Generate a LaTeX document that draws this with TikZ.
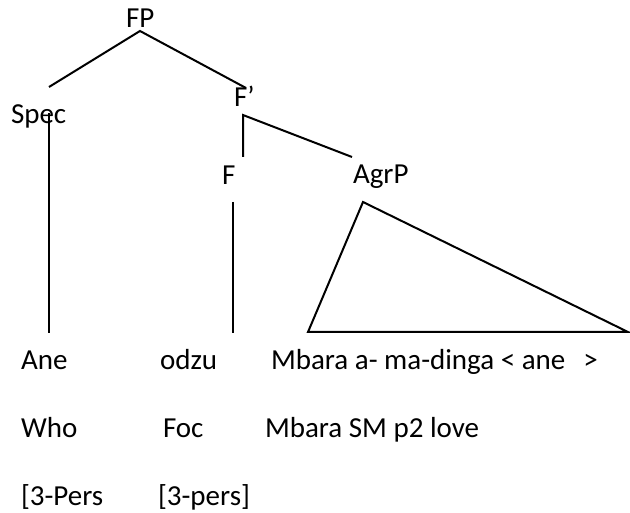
\documentclass[tikz,border=0pt]{standalone}
\usepackage{fontspec}
\setmainfont{Carlito}
\begin{document}
\begin{tikzpicture}[x=1pt,y=-1pt,
  lbl/.style={anchor=base west,inner sep=0pt,outer sep=0pt,font=\fontsize{29}{35}\selectfont},
  edge/.style={line width=2pt,line cap=butt,line join=miter}]
\useasboundingbox (0,0) rectangle (630,513);
% labels
\node[lbl] (fp) at (126,28) {FP};
\node[lbl] (spec) at (11,124) {Spec};
\node[lbl] (fbar) at (234,107) {F’};
\node[lbl] (f) at (222,185) {F};
\node[lbl] (agrp) at (353,184) {AgrP};
\node[lbl] (ane) at (21,370) {Ane};
\node[lbl] (odzu) at (160,370) {odzu};
\node[lbl] (mbara) at (271,370) {Mbara a- ma-dinga < ane\hspace{0.62em}>};
\node[lbl] (who) at (21,438) {Who};
\node[lbl] (foc) at (163,438) {Foc};
\node[lbl] (gloss) at (265,437) {Mbara SM p2 love};
\node[lbl] (pers1) at (21,505) {[3-Pers};
\node[lbl] (pers2) at (158,505) {[3-pers]};
% branch points
\coordinate (fpb) at (140,31);
\coordinate (spect) at (49,87);
\coordinate (fbart) at (246,88);
\coordinate (specb) at (49,113);
\coordinate (aneb) at (49,333);
\coordinate (fbarb) at (243,115);
\coordinate (ft) at (243,157);
\coordinate (agrpt) at (352,157);
\coordinate (fb) at (233,202);
\coordinate (odzub) at (233,333);
\coordinate (tria) at (363,202);
\coordinate (tril) at (308,332);
\coordinate (trir) at (628,332);
% edges
\draw[edge] (spect) -- (fpb) -- (fbart);
\draw[edge] (specb) -- (aneb);
\draw[edge] (ft) -- (fbarb) -- (agrpt);
\draw[edge] (fb) -- (odzub);
\draw[edge] (tria) -- (tril) -- (trir) -- cycle;
\end{tikzpicture}
\end{document}
